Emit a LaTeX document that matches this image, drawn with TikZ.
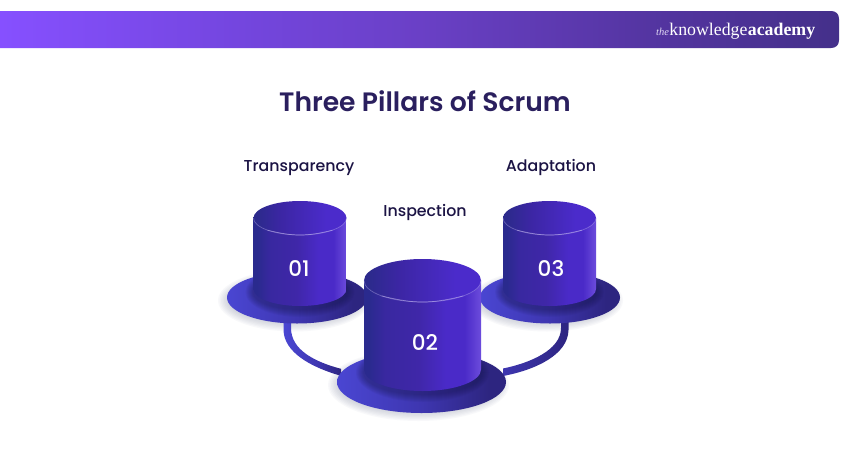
\documentclass[tikz,border=0pt]{standalone}
\usepackage{fontspec}
\setmainfont{Poppins}
\newfontfamily\popsemi{Poppins SemiBold}
\newfontfamily\popmed{Poppins Medium}
\newfontfamily\logofont{Liberation Serif}
\definecolor{titleink}{HTML}{2A1F5E}
\definecolor{labelink}{HTML}{1B1344}
\definecolor{shadowink}{HTML}{7E86A0}
\definecolor{rimink}{HTML}{C2B6F0}
\definecolor{bA}{HTML}{8650FF}\definecolor{bB}{HTML}{7446DF}\definecolor{bC}{HTML}{6A40C6}\definecolor{bD}{HTML}{52349E}\definecolor{bE}{HTML}{44308A}
\definecolor{cA}{HTML}{2A2A8E}\definecolor{cB}{HTML}{3F27A8}\definecolor{cC}{HTML}{4A2AC8}\definecolor{cD}{HTML}{6C4CDC}
\definecolor{tA}{HTML}{2C2A8C}\definecolor{tB}{HTML}{3C26A4}\definecolor{tC}{HTML}{4B2BCB}
\definecolor{dA}{HTML}{4A46D2}\definecolor{dB}{HTML}{3E36B0}\definecolor{dC}{HTML}{2D2580}
\pgfdeclarehorizontalshading{bannershade}{100bp}{color(0bp)=(bA); color(25bp)=(bA); color(39bp)=(bB); color(50bp)=(bC); color(65bp)=(bD); color(75bp)=(bE); color(100bp)=(bE)}
\pgfdeclarehorizontalshading{bodyshade}{100bp}{color(0bp)=(cA); color(27bp)=(cA); color(34bp)=(cB!70!cA); color(48bp)=(cB); color(60bp)=(cC); color(68bp)=(cC); color(75bp)=(cD); color(100bp)=(cD)}
\pgfdeclarehorizontalshading{topshade}{100bp}{color(0bp)=(tA); color(27bp)=(tA); color(40bp)=(tB); color(64bp)=(tC); color(75bp)=(tC); color(100bp)=(tC)}
\pgfdeclarehorizontalshading{discshade}{100bp}{color(0bp)=(dA); color(25bp)=(dA); color(50bp)=(dB); color(70bp)=(dC); color(100bp)=(dC)}
\pgfdeclarehorizontalshading{linkLshade}{100bp}{color(0bp)=(dA); color(25bp)=(dA); color(55bp)=(dB); color(75bp)=(dC); color(100bp)=(dC)}
\pgfdeclarehorizontalshading{linkRshade}{100bp}{color(0bp)=(dB); color(25bp)=(dB); color(75bp)=(dC); color(100bp)=(dC)}
\tikzset{
  titletext/.style={font=\popsemi\fontsize{26.6}{30}\selectfont,text=titleink,inner sep=0pt,anchor=base},
  labeltext/.style={font=\popmed\fontsize{15.8}{18}\selectfont,text=labelink,inner sep=0pt,anchor=base},
  numtext/.style={font=\popmed\fontsize{21.5}{25}\selectfont,text=white,inner sep=0pt,anchor=base},
  logotext/.style={font=\logofont,text=white,inner sep=0pt,anchor=base west},
  bodyfill/.style={shading=bodyshade},
  topfill/.style={shading=topshade},
  discfill/.style={shading=discshade},
  rimline/.style={draw=rimink,line width=0.7pt}
}
% disc: centre x, centre y, rx, ry
\newcommand{\discshadow}[4]{%
  \foreach \k in {0,...,9}{
    \fill[shadowink,opacity=0.05] (#1-3,#2+3) ellipse [x radius={#3+6-\k*1.5}, y radius={#4+5-\k*1.3}];
  }}
\newcommand{\pillardisc}[4]{%
  \path[discfill] (#1,#2) ellipse [x radius=#3, y radius=#4];}
% pillar: cx, top y, bottom y, rx, ry, disc centre y, disc rx, disc ry, disc cx
\newcommand{\pillarbody}[9]{%
  \begin{scope}
    \clip (#9,#6) ellipse [x radius=#7, y radius=#8];
    \foreach \k in {0,...,7}{
      \fill[black!60!cA,opacity=0.05] (#1,#3+3) ellipse [x radius={#4+8-\k}, y radius={#5+8-\k}];
    }
  \end{scope}
  \path[bodyfill] (#1-#4,#2) -- (#1-#4,#3)
     .. controls (#1-#4,#3+0.552*#5) and (#1-0.552*#4,#3+#5) .. (#1,#3+#5)
     .. controls (#1+0.552*#4,#3+#5) and (#1+#4,#3+0.552*#5) .. (#1+#4,#3)
     -- (#1+#4,#2) -- cycle;
  \path[topfill] (#1,#2) ellipse [x radius=#4, y radius=#5];
  % the pale rim of the lower arc
  \draw[rimline,opacity=0.4] (#1-#4,#2)
     .. controls (#1-#4,#2+0.552*#5) and (#1-0.552*#4,#2+#5) .. (#1,#2+#5)
     .. controls (#1+0.552*#4,#2+#5) and (#1+#4,#2+0.552*#5) .. (#1+#4,#2);
  \draw[rimline,opacity=0.55] (#1-0.7*#4,#2+0.714*#5)
     .. controls (#1-0.4*#4,#2+0.92*#5) and (#1-0.2*#4,#2+#5) .. (#1,#2+#5)
     .. controls (#1+0.2*#4,#2+#5) and (#1+0.4*#4,#2+0.92*#5) .. (#1+0.7*#4,#2+0.714*#5);
}
\begin{document}
\begin{tikzpicture}[x=1pt,y=-1pt]
\useasboundingbox (0,0) rectangle (850,450);
\fill[white] (0,0) rectangle (850,450);

% banner
\path[shading=bannershade]
  (0,11) -- (831,11) .. controls (836,11) and (839,14) .. (839,19)
  -- (839,40) .. controls (839,45) and (836,48) .. (831,48) -- (0,48) -- cycle;

% logo
\node[logotext,font=\logofont\itshape\fontsize{10.5}{12}\selectfont,text=white!80!bC] (logoThe) at (656,35) {the};
\node[logotext,font=\logofont\fontsize{17.8}{20}\selectfont] (logoKnow) at (logoThe.base east) {knowledge};
\node[logotext,font=\logofont\bfseries\fontsize{17.8}{20}\selectfont] (logoAcad) at (logoKnow.base east) {academy};

% title and labels
\node[titletext] (title) at (425,111) {Three Pillars of Scrum};
\node[labeltext] (labelA) at (299,171) {Transparency};
\node[labeltext] (labelB) at (425,216) {Inspection};
\node[labeltext] (labelC) at (551,171) {Adaptation};

% soft shadows
\discshadow{297}{297.5}{70}{26}
\discshadow{550}{297.5}{70}{26}
\discshadow{421.5}{382}{84.5}{31}

% links between the discs
\path[shading=linkLshade] (283.5,318) -- (283.5,330) .. controls (284,352) and (310,367) .. (341,375.8)
  -- (341,368.8) .. controls (315,362) and (291,350) .. (291,328) -- (291,318) -- cycle;
\path[shading=linkRshade] (503,368.5) .. controls (530,363) and (561,350) .. (561,328) -- (561,318)
  -- (568.5,318) -- (568.5,330) .. controls (568,355) and (535,370) .. (503,376) -- cycle;

% discs
\pillardisc{297}{297.5}{70}{26}
\pillardisc{550}{297.5}{70}{26}
\pillardisc{421.5}{382}{84.5}{31}

% pillars
\pillarbody{300}{218}{289}{46.5}{17}{297.5}{70}{26}{297}
\pillarbody{549.5}{218}{289}{46.5}{17}{297.5}{70}{26}{550}
\pillarbody{422.5}{280.5}{369.5}{58.5}{21.5}{382}{84.5}{31}{421.5}

% numbers
\node[numtext] (numA) at (299,276) {01};
\node[numtext] (numB) at (425,350) {02};
\node[numtext] (numC) at (551,276) {03};
\end{tikzpicture}
\end{document}
